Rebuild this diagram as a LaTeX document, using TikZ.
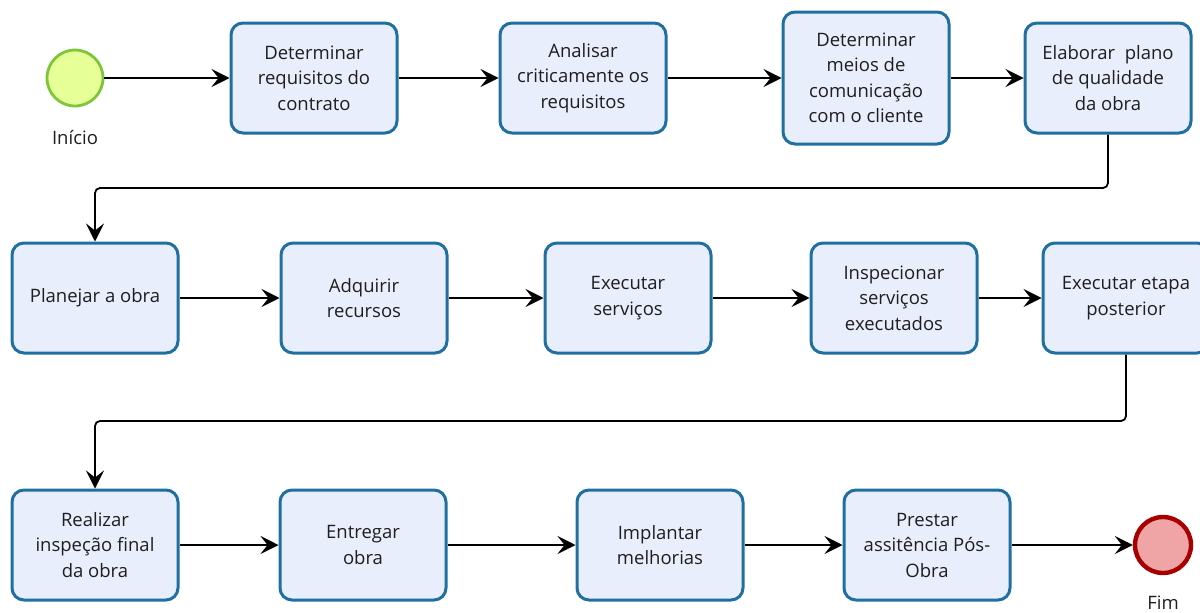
\documentclass[tikz,border=0pt]{standalone}
\usepackage{fontspec}
\setmainfont{Open Sans}
\usetikzlibrary{arrows.meta}
\definecolor{taskblue}{RGB}{31,111,160}
\definecolor{taskfill}{RGB}{233,238,252}
\definecolor{startfill}{RGB}{230,255,150}
\definecolor{startline}{RGB}{125,198,58}
\definecolor{endfill}{RGB}{239,165,166}
\definecolor{endline}{RGB}{168,0,0}
\definecolor{txt}{RGB}{30,30,30}
\begin{document}
\begin{tikzpicture}[x=1pt,y=-1pt,
  task/.style={draw=taskblue, fill=taskfill, line width=3pt, rounded corners=12pt,
    minimum width=166pt, minimum height=110pt, inner sep=0pt, align=center,
    text=txt, font=\fontsize{18.5}{25.5}\selectfont},
  startev/.style={circle, draw=startline, fill=startfill, line width=2.8pt,
    minimum size=56pt, inner sep=0pt},
  endev/.style={circle, draw=endline, fill=endfill, line width=4.4pt,
    minimum size=56pt, inner sep=0pt},
  evlabel/.style={text=txt, font=\fontsize{18.5}{22}\selectfont, inner sep=0pt},
  flow/.style={line width=1.8pt, draw=black, rounded corners=5pt,
    -{Stealth[length=18pt,width=18pt,inset=7pt]}}]
\useasboundingbox (0,0) rectangle (1200,613);

% first row
\node[startev] (start) at (75,78) {};
\node[evlabel] (startlbl) at (75,138) {Início};
\node[task] (t1) at (314,78) {Determinar\\requisitos do\\contrato};
\node[task] (t2) at (583,78) {Analisar\\criticamente os\\requisitos};
\node[task, minimum height=132pt] (t3) at (866,78) {Determinar\\meios de\\comunicação\\com o cliente};
\node[task] (t4) at (1108,78) {Elaborar~ plano\\de qualidade\\da obra};

% second row
\node[task] (t5) at (95,298) {Planejar a obra};
\node[task] (t6) at (364,298) {Adquirir\\recursos};
\node[task] (t7) at (628,298) {Executar\\serviços};
\node[task] (t8) at (894,298) {Inspecionar\\serviços\\executados};
\node[task] (t9) at (1126,298) {Executar etapa\\posterior};

% third row
\node[task] (t10) at (95,545) {Realizar\\inspeção final\\da obra};
\node[task] (t11) at (363,545) {Entregar\\obra};
\node[task] (t12) at (660,545) {Implantar\\melhorias};
\node[task] (t13) at (927,545) {Prestar\\assitência Pós-\\Obra};
\node[endev] (finish) at (1163,545) {};
\node[evlabel] (finishlbl) at (1163,603) {Fim};

% levels of the horizontal runs between rows
\coordinate (turn1) at (0,188);
\coordinate (turn2) at (0,421);

% connectors
\draw[flow] (start) -- (t1);
\draw[flow] (t1) -- (t2);
\draw[flow] (t2) -- (t3);
\draw[flow] (t3) -- (t4);
\draw[flow] (t4.south) -- (t4.south |- turn1) -| (t5.north);
\draw[flow] (t5) -- (t6);
\draw[flow] (t6) -- (t7);
\draw[flow] (t7) -- (t8);
\draw[flow] (t8) -- (t9);
\draw[flow] (t9.south) -- (t9.south |- turn2) -| (t10.north);
\draw[flow] (t10) -- (t11);
\draw[flow] (t11) -- (t12);
\draw[flow] (t12) -- (t13);
\draw[flow] (t13) -- (finish);
\end{tikzpicture}
\end{document}
